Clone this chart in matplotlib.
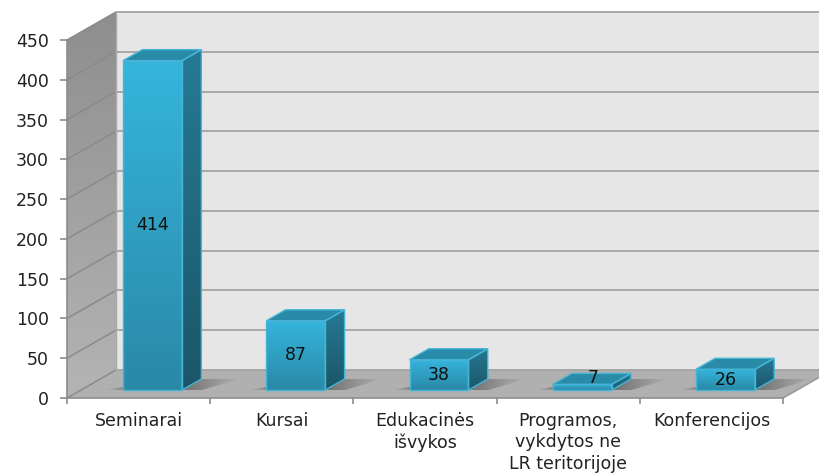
import numpy as np
import matplotlib
matplotlib.use('Agg')
import matplotlib.pyplot as plt
from matplotlib.patches import Polygon
from matplotlib.colors import LinearSegmentedColormap

plt.rcParams['font.family'] = ['DejaVu Sans']

categories = ['Seminarai', 'Kursai', 'Edukacinės\nišvykos', 'Programos,\nvykdytos ne\nLR teritorijoje', 'Konferencijos']
values = [414, 87, 38, 7, 26]
y_ticks = [0, 50, 100, 150, 200, 250, 300, 350, 400, 450]

W, H = 820, 473
# front plane of the 3d box, in pixels
LEFT, RIGHT, TOP, BOTTOM = 67, 783, 40, 398
DEPTH_X, DEPTH_Y = 49, 28
FLOOR = '#b0b0b0'
FONT = 12.5

fig = plt.figure(figsize=(W / 100, H / 100), dpi=100, facecolor='white')
ax = fig.add_axes([LEFT / W, 1 - BOTTOM / H, (RIGHT - LEFT) / W, (BOTTOM - TOP) / H])
ax.patch.set_visible(False)

# depth is given as 0 (front) to 1 (back wall)
sx = len(categories) / (RIGHT - LEFT)
sy = 450 / (BOTTOM - TOP)


def proj(x, v, d=0):
    return (x + d * DEPTH_X * sx, v + d * DEPTH_Y * sy)


def gradient_face(pts, top, bottom, zorder, horizontal=False):
    # polygon filled with a gradient, image is clipped to the polygon
    pts = np.array(pts)
    cmap = LinearSegmentedColormap.from_list('g', [top, bottom])
    g = np.linspace(0, 1, 128).reshape(-1, 1)
    if horizontal:
        g = g.T
    im = ax.imshow(g, cmap=cmap, aspect='auto', origin='upper', zorder=zorder,
                   extent=[pts[:, 0].min(), pts[:, 0].max(), pts[:, 1].min(), pts[:, 1].max()])
    clip = Polygon(pts, transform=ax.transData, fill=False, edgecolor='none')
    ax.add_patch(clip)
    clip.set_clip_on(False)
    im.set_clip_box(fig.bbox)
    im.set_clip_path(clip)
    return im


n = len(categories)

# back wall
ax.add_patch(Polygon([proj(0, 0, 1), proj(0, 450, 1), proj(n, 450, 1), proj(n, 0, 1)], closed=True,
                     facecolor='#e6e6e6', edgecolor='none', zorder=1, clip_on=False))
# left wall
gradient_face([proj(0, 0), proj(0, 450), proj(0, 450, 1), proj(0, 0, 1)], '#8e8e8e', '#b4b4b4', 1)
# floor
ax.add_patch(Polygon([proj(0, 0), proj(n, 0), proj(n, 0, 1), proj(0, 0, 1)], closed=True,
                     facecolor=FLOOR, edgecolor='none', zorder=1, clip_on=False))

# grid lines
for v in y_ticks:
    ax.plot([proj(0, v)[0], proj(0, v, 1)[0]], [proj(0, v)[1], proj(0, v, 1)[1]],
            color='#8a8a8a', lw=1.1, zorder=2, clip_on=False)
    ax.plot([proj(0, v, 1)[0], proj(n, v, 1)[0]], [proj(0, v, 1)[1]] * 2, color='#a3a3a3', lw=1.3,
            zorder=2, clip_on=False)
ax.plot([proj(0, 0, 1)[0], proj(0, 450, 1)[0]], [proj(0, 0, 1)[1], proj(0, 450, 1)[1]], color='#a8a8a8', lw=1,
        zorder=2, clip_on=False)
ax.plot([proj(n, 0)[0], proj(n, 0, 1)[0]], [proj(n, 0)[1], proj(n, 0, 1)[1]], color='#9a9a9a', lw=1.2,
        zorder=2, clip_on=False)

# bars
BAR_W = 0.412
D0, D1 = 8 / DEPTH_Y, 19 / DEPTH_Y
for i, val in enumerate(values):
    x0, x1 = i + 0.5 - BAR_W / 2, i + 0.5 + BAR_W / 2
    # soft shadow on the floor, either side of the bar
    gradient_face([proj(x0, 0, D0), proj(x0 - 0.12, 0, D0), proj(x0, 0, D0 + 0.17)],
                  FLOOR, '#757575', 3, horizontal=True)
    gradient_face([proj(x1, 0, D0), proj(x1 + 0.14, 0, D0), proj(x1 + 0.26, 0, D1), proj(x1, 0, D1)],
                  '#6f6f6f', FLOOR, 3, horizontal=True)

    front = [proj(x0, 0, D0), proj(x0, val, D0), proj(x1, val, D0), proj(x1, 0, D0)]
    side = [proj(x1, 0, D0), proj(x1, val, D0), proj(x1, val, D1), proj(x1, 0, D1)]
    top = [proj(x0, val, D0), proj(x0, val, D1), proj(x1, val, D1), proj(x1, val, D0)]
    gradient_face(front, '#35b5dd', '#2a89a6', 4)
    gradient_face(side, '#267a94', '#1b5668', 4)
    ax.add_patch(Polygon(top, closed=True, facecolor='#2a8ba8', edgecolor='none', zorder=4, clip_on=False))
    for face in (front, side, top):
        ax.add_patch(Polygon(face, closed=True, fill=False, edgecolor='#45b4d6', lw=1, zorder=5, clip_on=False))

    # labels sit mid front, except the flat bar where the label goes on top
    if val < 10:
        lx, ly = proj(i + 0.5, val, 0.51)
    else:
        lx, ly = proj(i + 0.5, val / 2, D0)
    ax.text(lx, ly, str(val), ha='center', va='center', fontsize=FONT, color='#111111', zorder=6)

ax.set_xlim(0, n)
ax.set_ylim(0, 450)

# axes, ticks and labels
for side_name in ('top', 'right'):
    ax.spines[side_name].set_visible(False)
for side_name in ('left', 'bottom'):
    ax.spines[side_name].set_color('#8c8c8c')
    ax.spines[side_name].set_linewidth(1.2)
    ax.spines[side_name].set_zorder(7)

ax.set_yticks(y_ticks)
ax.set_yticklabels([str(v) for v in y_ticks], fontsize=FONT, color='#222222')
ax.set_xticks(range(n + 1))
ax.set_xticklabels([])
ax.set_xticks(np.arange(n) + 0.5, minor=True)
ax.set_xticklabels(categories, minor=True, fontsize=FONT, color='#222222', linespacing=1.25)
ax.tick_params(axis='x', which='major', length=4, width=1.2, color='#8c8c8c')
ax.tick_params(axis='x', which='minor', length=0, pad=10)
ax.tick_params(axis='y', length=5, width=1.2, color='#8c8c8c', pad=8)

fig.savefig('out.png', dpi=100)
